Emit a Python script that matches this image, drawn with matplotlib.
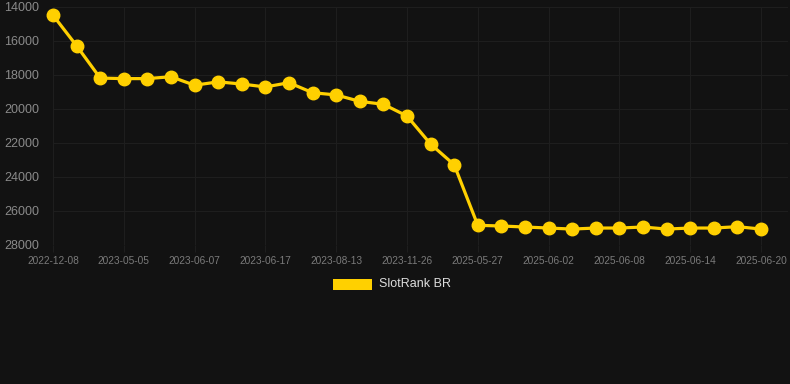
import matplotlib
matplotlib.use("Agg")
import matplotlib.pyplot as plt
from matplotlib.patches import Rectangle

plt.rcParams['font.family'] = ['Liberation Sans', 'DejaVu Sans']

dates = ["2022-12-08", "", "", "2023-05-05", "", "", "2023-06-07", "", "",
         "2023-06-17", "", "", "2023-08-13", "", "", "2023-11-26", "", "",
         "2025-05-27", "", "", "2025-06-02", "", "", "2025-06-08", "", "",
         "2025-06-14", "", "", "2025-06-20"]
ranks = [14500, 16300, 18200, 18230, 18230, 18120, 18620, 18420, 18550,
         18720, 18470, 19060, 19190, 19570, 19740, 20430, 22080, 23300,
         26860, 26900, 26960, 27020, 27080, 27020, 27020, 26960, 27080,
         27020, 27020, 26940, 27080]
yticks = [14000, 16000, 18000, 20000, 22000, 24000, 26000, 28000]
series_name = "SlotRank BR"

BG = "#121212"
GOLD = "#FFD000"
GRID = "#1e1e1e"

fig = plt.figure(figsize=(7.9, 3.84), dpi=100, facecolor=BG)
ax = fig.add_axes([53/790, 1-244.7/384, (788-53)/790, (244.7-6.7)/384])
ax.set_facecolor(BG)

x = list(range(len(ranks)))
ax.plot(x, ranks, color=GOLD, lw=2.3, marker='o', markersize=9,
        markerfacecolor=GOLD, markeredgecolor=GOLD, zorder=3, clip_on=False)

ax.set_ylim(28000, 14000)
ax.set_xlim(0, 30 + 27/23.6)
ax.set_yticks(yticks)
ax.set_yticklabels([str(v) for v in yticks])
tick_idx = [i for i, d in enumerate(dates) if d]
ax.set_xticks(tick_idx)
ax.set_xticklabels([dates[i] for i in tick_idx])

ax.grid(True, color=GRID, lw=0.8)
ax.set_axisbelow(True)
for s in ax.spines.values():
    s.set_visible(False)
ax.tick_params(axis='y', length=0, pad=10, labelsize=9, labelcolor="#8a8a8a")
ax.tick_params(axis='x', length=5, color=GRID, pad=3, labelsize=7.3, labelcolor="#7a7a7a")

# legend
fig.patches.append(Rectangle((333/790, 1-289.5/384), 39/790, 11/384,
                             transform=fig.transFigure, facecolor=GOLD,
                             edgecolor=GOLD, lw=0))
fig.text(379/790, 1-284/384, series_name, color="#dddddd", fontsize=9,
         va='center', ha='left')

fig.savefig("out.png", dpi=100, facecolor=BG)
